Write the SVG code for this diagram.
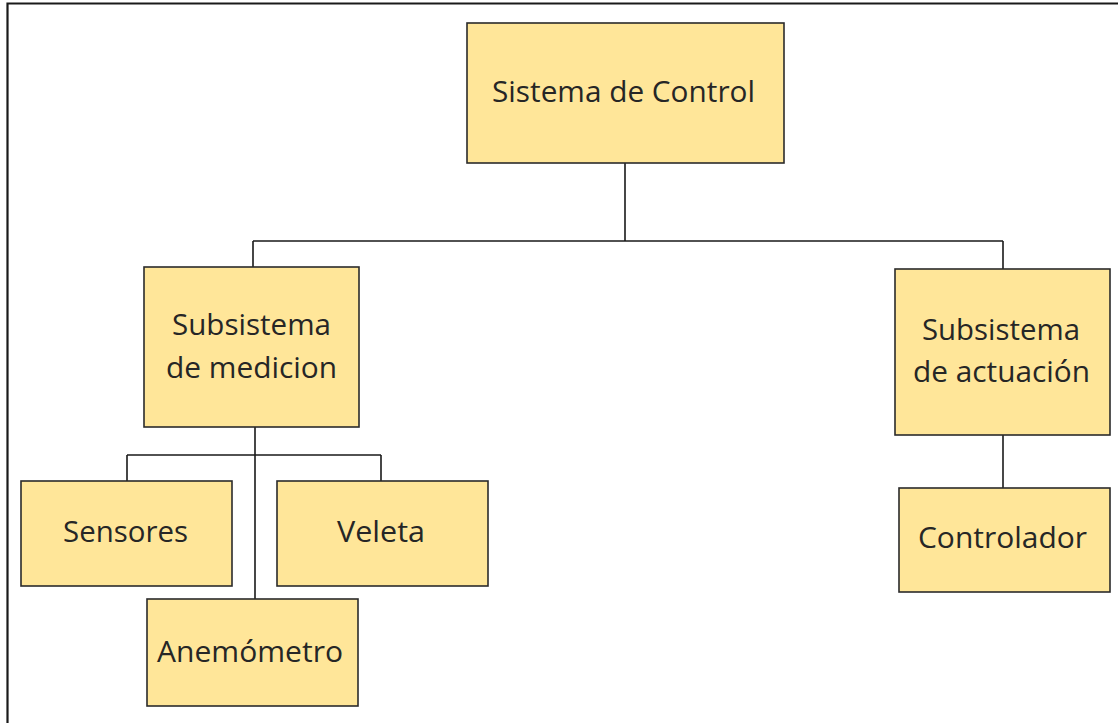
<svg xmlns="http://www.w3.org/2000/svg" width="1118" height="723" viewBox="0 0 1118 723">
  <style>
    .box { fill: #FFE699; stroke: #2b2b2b; stroke-width: 1.6; }
    .lbl { font-family: "Open Sans", "Liberation Sans", sans-serif; font-size: 29px; fill: #262626; }
    .wire { fill: none; stroke: #1a1a1a; stroke-width: 1.6; }
    .frame { fill: none; stroke: #1a1a1a; stroke-width: 2.2; }
  </style>
  <rect x="0" y="0" width="1118" height="723" fill="#ffffff"/>
  <path class="frame" d="M7.5,723 V3.5 H1118"/>

  <g id="connectors">
    <path class="wire" d="M625,163 V241 M253,241 H1003 M253,241 V267 M1003,241 V269"/>
    <path class="wire" d="M255,427 V599 M127,455 H381 M127,455 V481 M381,455 V481"/>
    <path class="wire" d="M1003,435 V488"/>
  </g>

  <g id="sistema-control">
    <rect class="box" x="467" y="23" width="317" height="140"/>
    <text class="lbl" x="492" y="102" textLength="263" lengthAdjust="spacingAndGlyphs">Sistema de Control</text>
  </g>

  <g id="subsistema-medicion">
    <rect class="box" x="144" y="267" width="215" height="160"/>
    <text class="lbl" x="172" y="335" textLength="159" lengthAdjust="spacingAndGlyphs">Subsistema</text>
    <text class="lbl" x="166" y="378" textLength="171" lengthAdjust="spacingAndGlyphs">de medicion</text>
  </g>

  <g id="subsistema-actuacion">
    <rect class="box" x="895" y="269" width="215" height="166"/>
    <text class="lbl" x="922" y="340" textLength="158" lengthAdjust="spacingAndGlyphs">Subsistema</text>
    <text class="lbl" x="913" y="382" textLength="177" lengthAdjust="spacingAndGlyphs">de actuación</text>
  </g>

  <g id="sensores">
    <rect class="box" x="21" y="481" width="211" height="105"/>
    <text class="lbl" x="63" y="542" textLength="125" lengthAdjust="spacingAndGlyphs">Sensores</text>
  </g>

  <g id="veleta">
    <rect class="box" x="277" y="481" width="211" height="105"/>
    <text class="lbl" x="337" y="542" textLength="88" lengthAdjust="spacingAndGlyphs">Veleta</text>
  </g>

  <g id="anemometro">
    <rect class="box" x="147" y="599" width="211" height="107"/>
    <text class="lbl" x="157" y="662" textLength="186" lengthAdjust="spacingAndGlyphs">Anemómetro</text>
  </g>

  <g id="controlador">
    <rect class="box" x="899" y="488" width="211" height="104"/>
    <text class="lbl" x="918" y="548" textLength="169" lengthAdjust="spacingAndGlyphs">Controlador</text>
  </g>
</svg>
